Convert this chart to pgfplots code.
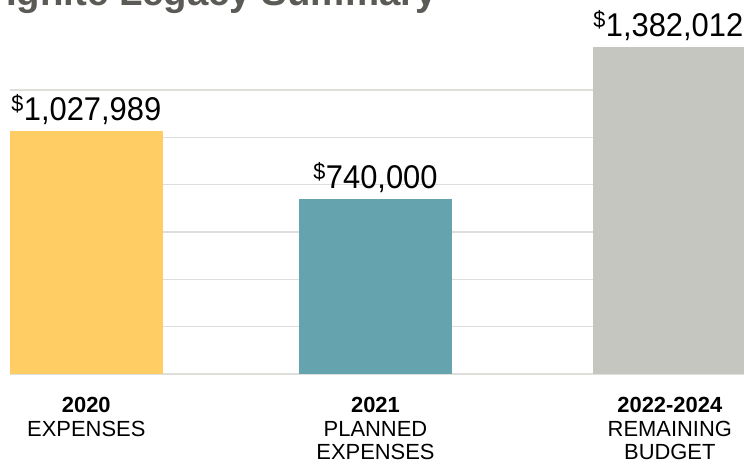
\documentclass[border=0pt]{standalone}
\usepackage{fontspec}
\setmainfont{Liberation Sans}
\newfontfamily\labfont[FakeStretch=0.94]{Liberation Sans}
\usepackage{pgfplots}
\pgfplotsset{compat=1.18}
\definecolor{cyel}{HTML}{FFCD64}
\definecolor{cteal}{HTML}{65A4AE}
\definecolor{cgray}{HTML}{C6C6C1}
\definecolor{cgrid}{HTML}{DEDEDA}
\definecolor{ctitle}{HTML}{5B5A56}
\begin{document}
\begin{tikzpicture}
\useasboundingbox (0,0) rectangle (744bp,464bp);
\clip (0,0) rectangle (744bp,464bp);
\begin{axis}[
  at={(10bp,90bp)}, anchor=south west,
  scale only axis, width=734bp, height=374bp,
  xmin=10, xmax=744, ymin=0, ymax=1580000,
  axis line style={draw=none},
  tick style={draw=none},
  ytick={0,200000,400000,600000,800000,1000000,1200000},
  yticklabels={},
  ymajorgrids,
  major grid style={draw=cgrid, line width=1.3bp},
  xtick={86.3,375.5,669.8},
  xticklabels={{\textbf{2020}\\EXPENSES},{\textbf{2021}\\PLANNED\\EXPENSES},{\textbf{2022-2024}\\REMAINING\\BUDGET}},
  xticklabel style={anchor=north, align=center, inner sep=0pt, yshift=-19bp, font=\fontsize{22}{23.6}\selectfont},
  ybar, bar width=153, bar shift=0pt,
  scaled y ticks=false,
  every node near coord/.append style={anchor=base, yshift=10.5bp, font=\labfont\fontsize{33}{36}\selectfont, text=black},
]
\addplot[fill=cyel, draw=none, nodes near coords={\textsuperscript{\$}1,027,989}] coordinates {(86.3,1027989)};
\addplot[fill=cteal, draw=none, nodes near coords={\textsuperscript{\$}740,000}] coordinates {(375.5,740000)};
\addplot[fill=cgray, draw=none, nodes near coords={\hspace*{-3bp}\textsuperscript{\$}1,382,012}] coordinates {(669.8,1382012)};
\end{axis}
\node[anchor=base west, inner sep=0pt, text=ctitle, font=\fontsize{38.5}{40}\selectfont\bfseries] at (6bp,458bp) {Ignite Legacy Summary};
\end{tikzpicture}
\end{document}
